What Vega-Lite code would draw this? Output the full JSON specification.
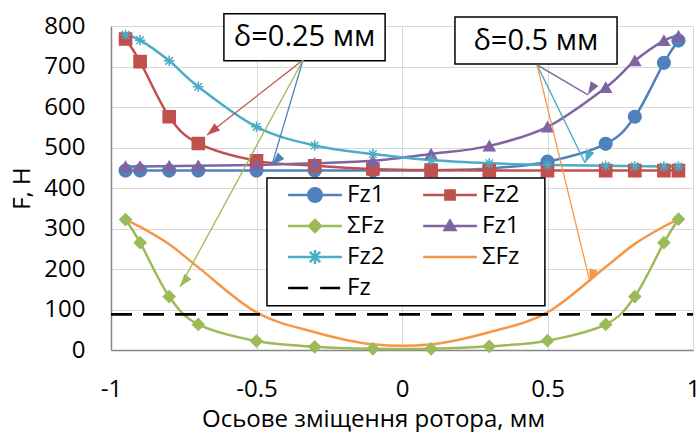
{
  "$schema": "https://vega.github.io/schema/vega-lite/v6.json",
  "width": 582,
  "height": 324,
  "autosize": {"type": "none"},
  "padding": {"left": 111, "top": 26, "right": 7, "bottom": 82},
  "background": "white",
  "config": {
    "view": {"stroke": null},
    "font": "Open Sans",
    "axis": {
      "labelFont": "Open Sans",
      "labelFontSize": 24,
      "labelColor": "#000000",
      "titleFont": "Open Sans",
      "titleFontSize": 24,
      "titleFontWeight": "normal",
      "titleColor": "#000000",
      "gridColor": "#d9d9d9",
      "gridWidth": 1,
      "domainColor": "#868686",
      "domainWidth": 1.5,
      "ticks": false,
      "tickSize": 0,
      "labelFlush": false,
      "labelOverlap": false
    }
  },
  "datasets": {
    "curves": [
      {"x": -0.95, "F": 443, "s": "Fz1 δ0.25"}, {"x": -0.9, "F": 443, "s": "Fz1 δ0.25"}, {"x": -0.8, "F": 443, "s": "Fz1 δ0.25"}, {"x": -0.7, "F": 443, "s": "Fz1 δ0.25"}, {"x": -0.5, "F": 443, "s": "Fz1 δ0.25"}, {"x": -0.3, "F": 443, "s": "Fz1 δ0.25"}, {"x": -0.1, "F": 443, "s": "Fz1 δ0.25"}, {"x": 0.1, "F": 444, "s": "Fz1 δ0.25"}, {"x": 0.3, "F": 448, "s": "Fz1 δ0.25"}, {"x": 0.5, "F": 465, "s": "Fz1 δ0.25"}, {"x": 0.7, "F": 509, "s": "Fz1 δ0.25"}, {"x": 0.8, "F": 576, "s": "Fz1 δ0.25"}, {"x": 0.9, "F": 709, "s": "Fz1 δ0.25"}, {"x": 0.95, "F": 764, "s": "Fz1 δ0.25"},
      {"x": -0.95, "F": 768, "s": "Fz2 δ0.25"}, {"x": -0.9, "F": 712, "s": "Fz2 δ0.25"}, {"x": -0.8, "F": 576, "s": "Fz2 δ0.25"}, {"x": -0.7, "F": 510, "s": "Fz2 δ0.25"}, {"x": -0.5, "F": 467, "s": "Fz2 δ0.25"}, {"x": -0.3, "F": 455, "s": "Fz2 δ0.25"}, {"x": -0.1, "F": 447, "s": "Fz2 δ0.25"}, {"x": 0.1, "F": 444, "s": "Fz2 δ0.25"}, {"x": 0.3, "F": 443, "s": "Fz2 δ0.25"}, {"x": 0.5, "F": 443, "s": "Fz2 δ0.25"}, {"x": 0.7, "F": 443, "s": "Fz2 δ0.25"}, {"x": 0.8, "F": 443, "s": "Fz2 δ0.25"}, {"x": 0.9, "F": 443, "s": "Fz2 δ0.25"}, {"x": 0.95, "F": 443, "s": "Fz2 δ0.25"},
      {"x": -0.95, "F": 322, "s": "ΣFz δ0.25"}, {"x": -0.9, "F": 265, "s": "ΣFz δ0.25"}, {"x": -0.8, "F": 132, "s": "ΣFz δ0.25"}, {"x": -0.7, "F": 63, "s": "ΣFz δ0.25"}, {"x": -0.5, "F": 22, "s": "ΣFz δ0.25"}, {"x": -0.3, "F": 8, "s": "ΣFz δ0.25"}, {"x": -0.1, "F": 3, "s": "ΣFz δ0.25"}, {"x": 0.1, "F": 3, "s": "ΣFz δ0.25"}, {"x": 0.3, "F": 9, "s": "ΣFz δ0.25"}, {"x": 0.5, "F": 23, "s": "ΣFz δ0.25"}, {"x": 0.7, "F": 63, "s": "ΣFz δ0.25"}, {"x": 0.8, "F": 132, "s": "ΣFz δ0.25"}, {"x": 0.9, "F": 265, "s": "ΣFz δ0.25"}, {"x": 0.95, "F": 323, "s": "ΣFz δ0.25"},
      {"x": -0.95, "F": 453, "s": "Fz1 δ0.5"}, {"x": -0.9, "F": 453, "s": "Fz1 δ0.5"}, {"x": -0.8, "F": 454, "s": "Fz1 δ0.5"}, {"x": -0.7, "F": 455, "s": "Fz1 δ0.5"}, {"x": -0.5, "F": 457, "s": "Fz1 δ0.5"}, {"x": -0.3, "F": 461, "s": "Fz1 δ0.5"}, {"x": -0.1, "F": 467, "s": "Fz1 δ0.5"}, {"x": 0.1, "F": 484, "s": "Fz1 δ0.5"}, {"x": 0.3, "F": 504, "s": "Fz1 δ0.5"}, {"x": 0.5, "F": 551, "s": "Fz1 δ0.5"}, {"x": 0.7, "F": 648, "s": "Fz1 δ0.5"}, {"x": 0.8, "F": 714, "s": "Fz1 δ0.5"}, {"x": 0.9, "F": 764, "s": "Fz1 δ0.5"}, {"x": 0.95, "F": 775, "s": "Fz1 δ0.5"},
      {"x": -0.95, "F": 778, "s": "Fz2 δ0.5"}, {"x": -0.9, "F": 765, "s": "Fz2 δ0.5"}, {"x": -0.8, "F": 714, "s": "Fz2 δ0.5"}, {"x": -0.7, "F": 650, "s": "Fz2 δ0.5"}, {"x": -0.5, "F": 551, "s": "Fz2 δ0.5"}, {"x": -0.3, "F": 505, "s": "Fz2 δ0.5"}, {"x": -0.1, "F": 484, "s": "Fz2 δ0.5"}, {"x": 0.1, "F": 469, "s": "Fz2 δ0.5"}, {"x": 0.3, "F": 461, "s": "Fz2 δ0.5"}, {"x": 0.5, "F": 457, "s": "Fz2 δ0.5"}, {"x": 0.7, "F": 455, "s": "Fz2 δ0.5"}, {"x": 0.8, "F": 454, "s": "Fz2 δ0.5"}, {"x": 0.9, "F": 453, "s": "Fz2 δ0.5"}, {"x": 0.95, "F": 453, "s": "Fz2 δ0.5"},
      {"x": -0.95, "F": 322, "s": "ΣFz δ0.5"}, {"x": -0.9, "F": 304, "s": "ΣFz δ0.5"}, {"x": -0.8, "F": 261, "s": "ΣFz δ0.5"}, {"x": -0.7, "F": 204, "s": "ΣFz δ0.5"}, {"x": -0.5, "F": 93, "s": "ΣFz δ0.5"}, {"x": -0.3, "F": 44, "s": "ΣFz δ0.5"}, {"x": -0.1, "F": 14, "s": "ΣFz δ0.5"}, {"x": 0.1, "F": 14, "s": "ΣFz δ0.5"}, {"x": 0.3, "F": 44, "s": "ΣFz δ0.5"}, {"x": 0.5, "F": 93, "s": "ΣFz δ0.5"}, {"x": 0.7, "F": 205, "s": "ΣFz δ0.5"}, {"x": 0.8, "F": 262, "s": "ΣFz δ0.5"}, {"x": 0.9, "F": 305, "s": "ΣFz δ0.5"}, {"x": 0.95, "F": 322, "s": "ΣFz δ0.5"},
      {"x": -1, "F": 88, "s": "Fz"}, {"x": 1, "F": 88, "s": "Fz"}
    ],
    "arrows": [
      {"s": "Fz2 δ0.25", "x": -0.34, "F": 716, "x2": -0.67, "F2": 531},
      {"s": "Fz1 δ0.25", "x": -0.34, "F": 716, "x2": -0.447, "F2": 457},
      {"s": "ΣFz δ0.25", "x": -0.34, "F": 716, "x2": -0.763, "F2": 156},
      {"s": "Fz1 δ0.5", "x": 0.464, "F": 704, "x2": 0.639, "F2": 630},
      {"s": "Fz2 δ0.5", "x": 0.464, "F": 704, "x2": 0.629, "F2": 462},
      {"s": "ΣFz δ0.5", "x": 0.464, "F": 704, "x2": 0.646, "F2": 168}
    ],
    "frames": [
      {"x": -0.464, "x2": 0.491, "F": 425, "F2": 109},
      {"x": -0.612, "x2": -0.058, "F": 830, "F2": 714},
      {"x": 0.182, "x2": 0.739, "F": 822, "F2": 706}
    ],
    "notes": [
      {"x": -0.335, "F": 772, "label": "δ=0.25 мм"},
      {"x": 0.46, "F": 764, "label": "δ=0.5 мм"}
    ]
  },
  "layer": [
    {
      "data": {"name": "curves"},
      "transform": [{"filter": "datum.s !== 'Fz'"}],
      "mark": {"type": "line", "interpolate": "cardinal", "strokeWidth": 2.5},
      "encoding": {
        "x": {
          "field": "x", "type": "quantitative",
          "scale": {"domain": [-1, 1], "nice": false, "zero": false},
          "axis": {
            "values": [-1, -0.5, 0, 0.5, 1],
            "labelExpr": "'' + datum.value",
            "labelBaseline": "middle",
            "labelPadding": 39,
            "grid": true,
            "title": "Осьове зміщення ротора, мм",
            "titleX": 262,
            "titleY": 76,
            "titleBaseline": "alphabetic",
            "titleAlign": "center"
          }
        },
        "y": {
          "field": "F", "type": "quantitative",
          "scale": {"domain": [0, 800], "nice": false, "zero": true},
          "axis": {
            "values": [0, 100, 200, 300, 400, 500, 600, 700, 800],
            "labelPadding": 26,
            "grid": true,
            "title": "F, Н",
            "titleX": -89,
            "titleY": 162,
            "titleAngle": -90,
            "titleBaseline": "middle",
            "titleAlign": "center"
          }
        },
        "color": {
          "field": "s", "type": "nominal",
          "scale": {
            "domain": ["Fz1 δ0.25", "Fz2 δ0.25", "ΣFz δ0.25", "Fz1 δ0.5", "Fz2 δ0.5", "ΣFz δ0.5", "Fz"],
            "range": ["#4F81BD", "#C0504D", "#9BBB59", "#8064A2", "#4BACC6", "#F79646", "#000000"]
          },
          "legend": {
            "orient": "none",
            "legendX": 177,
            "legendY": 157,
            "columns": 2,
            "direction": "horizontal",
            "title": null,
            "padding": 0,
            "symbolSize": 462,
            "symbolStrokeWidth": 2.5,
            "symbolOffset": 15,
            "labelFont": "Open Sans",
            "labelFontSize": 24,
            "labelColor": "#000000",
            "labelOffset": 20,
            "columnPadding": 33,
            "rowPadding": 7,
            "labelExpr": "split(datum.value, ' ')[0]",
            "encode": {
              "symbols": {
                "update": {
                  "shape": {"signal": "['M-2.5,0H2.5M-0.63,0A0.63,0.63,0,1,1,0.63,0A0.63,0.63,0,1,1,-0.63,0Z','M-2.5,0H2.5M-0.43,-0.43H0.43V0.43H-0.43Z','M-2.5,0H2.5M0,-0.56L0.56,0L0,0.56L-0.56,0Z','M-2.5,0H2.5M0,-0.5L0.5,0.38L-0.5,0.38Z','M-2.5,0H2.5M0,-0.65V0.65M-0.48,-0.48L0.48,0.48M-0.48,0.48L0.48,-0.48','M-2.5,0H2.5','M-2.5,0H2.5'][indexof(['Fz1 δ0.25','Fz2 δ0.25','ΣFz δ0.25','Fz1 δ0.5','Fz2 δ0.5','ΣFz δ0.5','Fz'], datum.value)]"},
                  "fill": {"signal": "scale('color', datum.value)"},
                  "stroke": {"signal": "scale('color', datum.value)"},
                  "strokeWidth": {"value": 2.5},
                  "strokeDash": {"signal": "datum.value === 'Fz' ? [20, 12] : null"},
                  "opacity": {"value": 1}
                }
              }
            }
          }
        }
      }
    },
    {
      "data": {"name": "curves"},
      "transform": [{"filter": "datum.s === 'Fz'"}],
      "mark": {"type": "line", "strokeWidth": 2.75, "strokeDash": [21, 11]},
      "encoding": {
        "x": {"field": "x", "type": "quantitative"},
        "y": {"field": "F", "type": "quantitative"},
        "color": {"field": "s", "type": "nominal"}
      }
    },
    {
      "data": {"name": "curves"},
      "transform": [{"filter": "datum.s !== 'Fz' && datum.s !== 'ΣFz δ0.5'"}],
      "mark": {"type": "point", "filled": true, "opacity": 1, "strokeWidth": 1.5},
      "encoding": {
        "x": {"field": "x", "type": "quantitative"},
        "y": {"field": "F", "type": "quantitative"},
        "color": {"field": "s", "type": "nominal"},
        "stroke": {
          "field": "s", "type": "nominal",
          "scale": {
            "domain": ["Fz1 δ0.25", "Fz2 δ0.25", "ΣFz δ0.25", "Fz1 δ0.5", "Fz2 δ0.5"],
            "range": ["#4F81BD", "#C0504D", "#9BBB59", "#8064A2", "#4BACC6"]
          },
          "legend": null
        },
        "shape": {
          "field": "s", "type": "nominal",
          "scale": {
            "domain": ["Fz1 δ0.25", "Fz2 δ0.25", "ΣFz δ0.25", "Fz1 δ0.5", "Fz2 δ0.5"],
            "range": ["circle", "square", "diamond", "triangle-up", "M0,-1V1M-1,0H1M-0.72,-0.72L0.72,0.72M-0.72,0.72L0.72,-0.72"]
          },
          "legend": null
        },
        "size": {
          "field": "s", "type": "nominal",
          "scale": {
            "domain": ["Fz1 δ0.25", "Fz2 δ0.25", "ΣFz δ0.25", "Fz1 δ0.5", "Fz2 δ0.5"],
            "range": [160, 110, 169, 144, 180]
          },
          "legend": null
        }
      }
    },
    {
      "data": {"name": "frames"},
      "mark": {"type": "rect", "fill": "white", "stroke": "black", "strokeWidth": 1.5},
      "encoding": {
        "x": {"field": "x", "type": "quantitative"},
        "x2": {"field": "x2"},
        "y": {"field": "F", "type": "quantitative"},
        "y2": {"field": "F2"}
      }
    },
    {
      "data": {"name": "arrows"},
      "mark": {"type": "rule", "strokeWidth": 1.3},
      "encoding": {
        "x": {"field": "x", "type": "quantitative"},
        "x2": {"field": "x2"},
        "y": {"field": "F", "type": "quantitative"},
        "y2": {"field": "F2"},
        "color": {"field": "s", "type": "nominal"}
      }
    },
    {
      "data": {"name": "arrows"},
      "mark": {"type": "point", "filled": true, "opacity": 1, "shape": "M0,0L0.7,2L-0.7,2Z", "size": 169},
      "encoding": {
        "x": {"field": "x2", "type": "quantitative"},
        "y": {"field": "F2", "type": "quantitative"},
        "color": {"field": "s", "type": "nominal"},
        "angle": {
          "field": "s", "type": "nominal",
          "scale": {
            "domain": ["Fz2 δ0.25", "Fz1 δ0.25", "ΣFz δ0.25", "Fz1 δ0.5", "Fz2 δ0.5", "ΣFz δ0.5"],
            "range": [232, 196.4, 208.5, 120.5, 153.9, 166.3]
          },
          "legend": null
        }
      }
    },
    {
      "data": {"name": "notes"},
      "mark": {"type": "text", "font": "Open Sans", "fontSize": 29, "color": "black", "align": "center", "baseline": "middle"},
      "encoding": {
        "x": {"field": "x", "type": "quantitative"},
        "y": {"field": "F", "type": "quantitative"},
        "text": {"field": "label"}
      }
    }
  ]
}
